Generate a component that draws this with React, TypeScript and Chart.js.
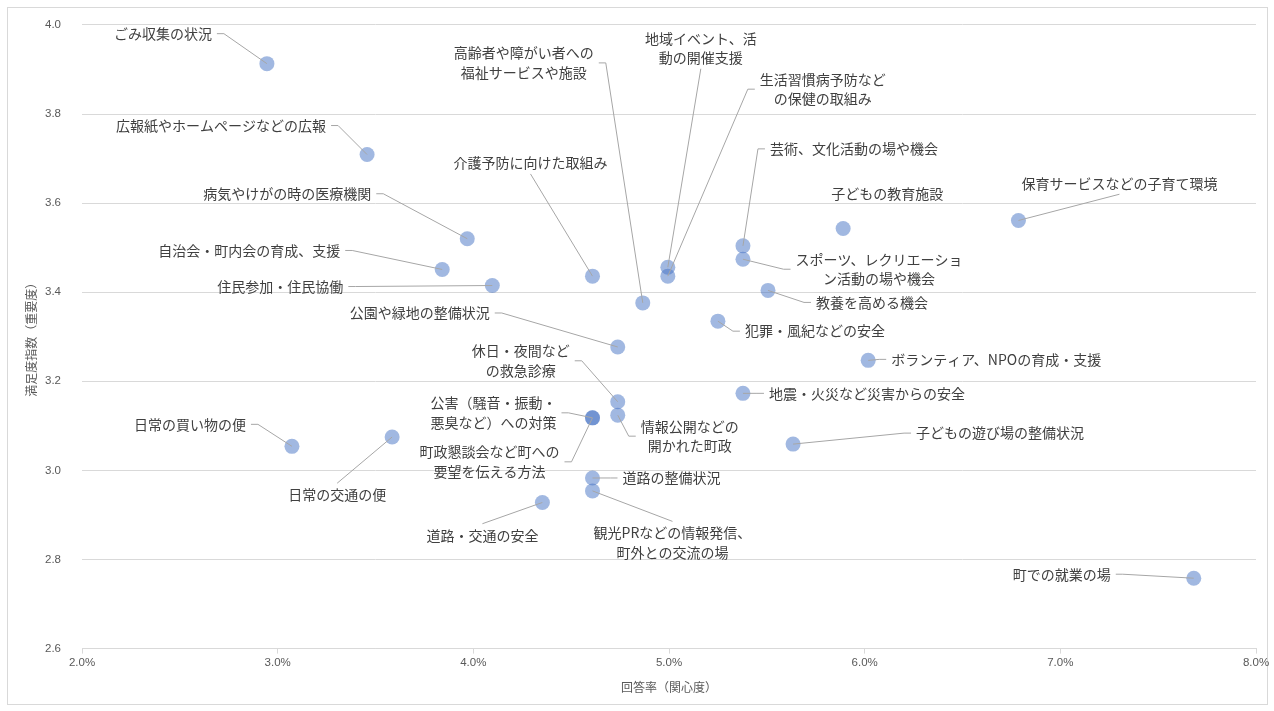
import { useEffect, useRef } from "react";
import { Chart, registerables } from "chart.js";

Chart.register(...registerables);

// 施策ごとの回答率(関心度, %)と満足度指数(重要度)
const items = [
  "ごみ収集の状況",
  "広報紙やホームページなどの広報",
  "病気やけがの時の医療機関",
  "自治会・町内会の育成、支援",
  "住民参加・住民協働",
  "介護予防に向けた取組み",
  "高齢者や障がい者への\n福祉サービスや施設",
  "地域イベント、活\n動の開催支援",
  "生活習慣病予防など\nの保健の取組み",
  "芸術、文化活動の場や機会",
  "スポーツ、レクリエーショ\nン活動の場や機会",
  "子どもの教育施設",
  "保育サービスなどの子育て環境",
  "教養を高める機会",
  "犯罪・風紀などの安全",
  "公園や緑地の整備状況",
  "ボランティア、NPOの育成・支援",
  "休日・夜間など\nの救急診療",
  "情報公開などの\n開かれた町政",
  "公害（騒音・振動・\n悪臭など）への対策",
  "町政懇談会など町への\n要望を伝える方法",
  "地震・火災など災害からの安全",
  "子どもの遊び場の整備状況",
  "日常の買い物の便",
  "日常の交通の便",
  "道路の整備状況",
  "観光PRなどの情報発信、\n町外との交流の場",
  "道路・交通の安全",
  "町での就業の場",
];

const responseRate = [
  2.945, 3.457, 3.969, 3.841, 4.097, 4.609, 4.866, 4.994, 4.994, 5.378,
  5.378, 5.89, 6.786, 5.506, 5.25, 4.738, 6.018, 4.738, 4.738, 4.609,
  4.609, 5.378, 5.634, 3.073, 3.585, 4.609, 4.609, 4.353, 7.682,
];

const satisfaction = [
  3.913, 3.709, 3.52, 3.451, 3.415, 3.436, 3.376, 3.456, 3.436, 3.504,
  3.474, 3.543, 3.561, 3.404, 3.335, 3.277, 3.247, 3.154, 3.124, 3.118,
  3.118, 3.173, 3.059, 3.054, 3.075, 2.983, 2.954, 2.928, 2.758,
];

const xTicks = [2, 3, 4, 5, 6, 7, 8];
const yTicks = [2.6, 2.8, 3.0, 3.2, 3.4, 3.6, 3.8, 4.0];

const xTitle = "回答率（関心度）";
const yTitle = "満足度指数（重要度）";

// ラベル中心の点からのずれ(px)と引き出し線の付く辺
type Side = "l" | "r" | "t" | "b" | "none";
const calloutLayout: [number, number, Side][] = [
  [-104, -30, "r"],
  [-146, -29, "r"],
  [-180, -45, "r"],
  [-193, -19, "r"],
  [-212, 1, "r"],
  [-62, -113, "b"],
  [-119, -240, "r"],
  [33, -219, "b"],
  [155, -187, "l"],
  [111, -97, "l"],
  [136, 10, "l"],
  [44, -35, "none"],
  [101, -37, "b"],
  [104, 12, "l"],
  [97, 10, "l"],
  [-198, -34, "r"],
  [128, -1, "l"],
  [-97, -41, "r"],
  [72, 21, "l"],
  [-99, -5, "r"],
  [-103, 44, "r"],
  [124, 0, "l"],
  [207, -11, "l"],
  [-102, -22, "r"],
  [-55, 58, "t"],
  [79, 0, "l"],
  [80, 52, "t"],
  [-60, 33, "t"],
  [-132, -4, "r"],
];

const labelFont = '14px "Noto Sans CJK JP", "Noto Sans", sans-serif';
const lineHeight = 19.5;

const calloutPlugin = {
  id: "callouts",
  afterDatasetsDraw(chart: any) {
    const ctx: CanvasRenderingContext2D = chart.ctx;
    const meta = chart.getDatasetMeta(0);
    ctx.save();
    ctx.font = labelFont;
    meta.data.forEach((pt: any, i: number) => {
      const lines = items[i].split("\n");
      const [dx, dy, side] = calloutLayout[i];
      const cx = pt.x + dx;
      const cy = pt.y + dy;
      const w = Math.max(...lines.map((l) => ctx.measureText(l).width));
      const h = lines.length * lineHeight;

      if (side !== "none") {
        ctx.strokeStyle = "#a6a6a6";
        ctx.lineWidth = 1;
        ctx.beginPath();
        if (side === "r") {
          const sx = cx + w / 2 + 5;
          ctx.moveTo(sx, cy);
          ctx.lineTo(sx + 7, cy);
        } else if (side === "l") {
          const sx = cx - w / 2 - 5;
          ctx.moveTo(sx, cy);
          ctx.lineTo(sx - 7, cy);
        } else if (side === "t") {
          ctx.moveTo(cx, cy - h / 2 - 2);
        } else {
          ctx.moveTo(cx, cy + h / 2 + 1);
        }
        ctx.lineTo(pt.x, pt.y);
        ctx.stroke();
      }

      ctx.fillStyle = "#404040";
      ctx.textAlign = "center";
      ctx.textBaseline = "middle";
      lines.forEach((l, k) => {
        ctx.fillText(l, cx, cy - h / 2 + lineHeight / 2 + k * lineHeight);
      });
    });
    ctx.restore();
  },
};

const tickFont = { family: '"Liberation Sans Narrow", "Liberation Sans", sans-serif', size: 11.5 };
const titleFont = { family: '"Noto Sans CJK JP", sans-serif', size: 12 };

export default function App() {
  const canvasRef = useRef<HTMLCanvasElement | null>(null);

  useEffect(() => {
    if (!canvasRef.current) return;
    const chart = new Chart(canvasRef.current, {
      type: "scatter",
      data: {
        datasets: [
          {
            data: responseRate.map((x, i) => ({ x, y: satisfaction[i] })),
            backgroundColor: "rgba(68,114,196,0.5)",
            borderWidth: 0,
            pointRadius: 7.5,
            pointHoverRadius: 7.5,
          },
        ],
      },
      options: {
        animation: false,
        responsive: false,
        maintainAspectRatio: false,
        devicePixelRatio: 1,
        layout: { padding: { left: 0, top: 0, right: 18, bottom: 0 } },
        plugins: {
          legend: { display: false },
          tooltip: { enabled: false },
        },
        scales: {
          x: {
            type: "linear",
            min: 2,
            max: 8,
            afterBuildTicks: (s: any) => {
              s.ticks = xTicks.map((value) => ({ value }));
            },
            afterFit: (s: any) => {
              s.height = 62.4;
            },
            grid: { drawOnChartArea: false, drawTicks: true, tickLength: 5, color: "#d9d9d9" },
            border: { color: "#d9d9d9" },
            ticks: {
              padding: 2,
              color: "#595959",
              font: tickFont,
              maxRotation: 0,
              callback: (v: any) => Number(v).toFixed(1) + "%",
            },
            title: {
              display: true,
              text: xTitle,
              color: "#595959",
              font: titleFont,
              padding: { top: 0, bottom: 16 },
            },
          },
          y: {
            type: "linear",
            min: 2.6,
            max: 4.0,
            afterBuildTicks: (s: any) => {
              s.ticks = yTicks.map((value) => ({ value }));
            },
            afterFit: (s: any) => {
              s.width = 82;
            },
            grid: {
              color: "#d9d9d9",
              drawTicks: true,
              tickLength: 3,
              tickColor: "rgba(0,0,0,0)",
            },
            border: { display: false },
            ticks: {
              padding: 18,
              color: "#595959",
              font: tickFont,
              callback: (v: any) => Number(v).toFixed(1),
            },
            title: {
              display: true,
              text: yTitle,
              color: "#595959",
              font: titleFont,
              padding: { top: 24, bottom: 0 },
            },
          },
        },
      },
      plugins: [calloutPlugin],
    });
    return () => chart.destroy();
  }, []);

  return (
    <div style={{ position: "fixed", left: 0, top: 0, width: 1274, height: 711, background: "#fff" }}>
      <div
        style={{
          position: "absolute",
          left: 7,
          top: 7,
          width: 1261,
          height: 698,
          border: "1px solid #d9d9d9",
          boxSizing: "border-box",
        }}
      />
      <canvas
        ref={canvasRef}
        width={1274}
        height={711}
        style={{ position: "absolute", left: 0, top: 0, width: 1274, height: 711 }}
      />
    </div>
  );
}
